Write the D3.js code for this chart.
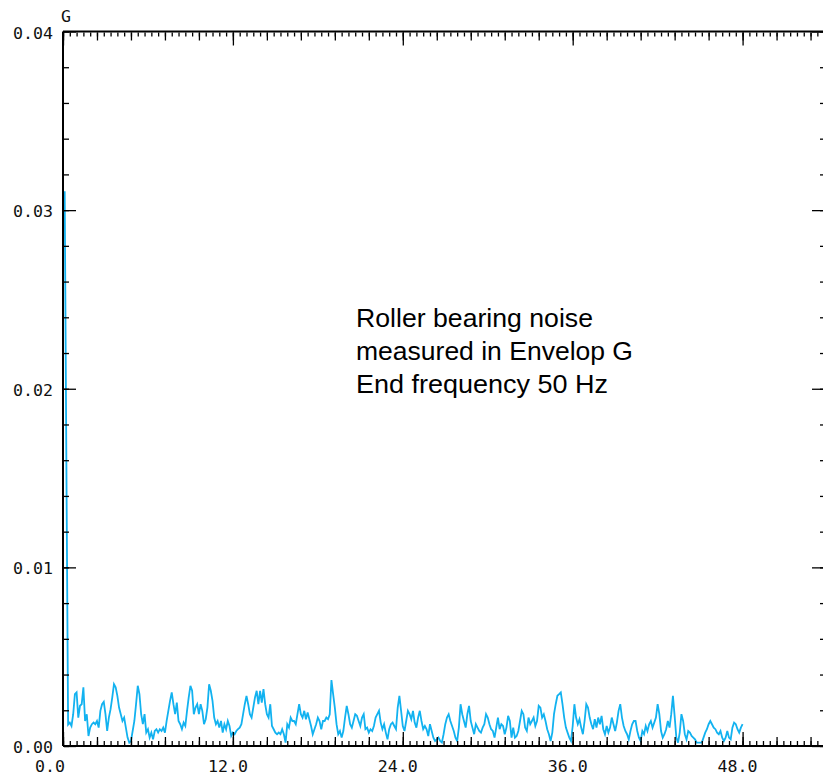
<!DOCTYPE html>
<html>
<head>
<meta charset="utf-8">
<script src="https://cdn.jsdelivr.net/npm/d3@7"></script>
<style>
  html, body { margin: 0; padding: 0; background: #fff; }
  svg { display: block; }
</style>
</head>
<body>
<svg id="chart" width="823" height="778"></svg>
<script>
// Envelope spectrum, 0.12 Hz resolution from 0 to 48 Hz (amplitude in G)
const freqStep = 0.12;
const amplitude = [
  0.0310,
  0.0310, 0.0157, 0.00120, 0.00131, 0.00112, 0.00178, 0.00290, 0.00300, 0.00159, 0.00225,
  0.00234, 0.00328, 0.00140, 0.00178, 0.00056, 0.00103, 0.00122, 0.00131, 0.00122, 0.00140,
  0.00103, 0.00197, 0.00234, 0.00247, 0.00178, 0.00084, 0.00159, 0.00206, 0.00272, 0.00346,
  0.00328, 0.00281, 0.00215, 0.00178, 0.00140, 0.00159, 0.00103, 0.00047, 0.00019, 0.00028,
  0.00084, 0.00140, 0.00234, 0.00337, 0.00290, 0.00178, 0.00122, 0.00178, 0.00075, 0.00094,
  0.00047, 0.00075, 0.00037, 0.00084, 0.00094, 0.00075, 0.00094, 0.00084, 0.00103, 0.00075,
  0.00140, 0.00197, 0.00253, 0.00300, 0.00234, 0.00178, 0.00243, 0.00140, 0.00122, 0.00094,
  0.00131, 0.00112, 0.00197, 0.00272, 0.00337, 0.00309, 0.00178, 0.00215, 0.00234, 0.00178,
  0.00234, 0.00197, 0.00122, 0.00150, 0.00215, 0.00346, 0.00309, 0.00253, 0.00159, 0.00122,
  0.00140, 0.00103, 0.00140, 0.00075, 0.00122, 0.00094, 0.00140, 0.00112, 0.00056, 0.00075,
  0.00066, 0.00084, 0.00094, 0.00103, 0.00122, 0.00178, 0.00234, 0.00281, 0.00234, 0.00178,
  0.00159, 0.00215, 0.00272, 0.00309, 0.00234, 0.00309, 0.00243, 0.00318, 0.00234, 0.00178,
  0.00159, 0.00234, 0.00112, 0.00094, 0.00075, 0.00066, 0.00075, 0.00066, 0.00094, 0.00066,
  0.00019, 0.00122, 0.00103, 0.00159, 0.00140, 0.00140, 0.00122, 0.00178, 0.00234, 0.00178,
  0.00159, 0.00197, 0.00150, 0.00187, 0.00150, 0.00112, 0.00066, 0.00094, 0.00122, 0.00159,
  0.00140, 0.00094, 0.00140, 0.00140, 0.00159, 0.00150, 0.00178, 0.00369, 0.00290, 0.00215,
  0.00122, 0.00066, 0.00084, 0.00047, 0.00084, 0.00159, 0.00225, 0.00178, 0.00122, 0.00103,
  0.00140, 0.00178, 0.00169, 0.00140, 0.00112, 0.00159, 0.00178, 0.00094, 0.00103, 0.00075,
  0.00094, 0.00084, 0.00112, 0.00159, 0.00178, 0.00197, 0.00131, 0.00094, 0.00122, 0.00075,
  0.00037, 0.00094, 0.00122, 0.00131, 0.00112, 0.00094, 0.00215, 0.00281, 0.00197, 0.00112,
  0.00084, 0.00140, 0.00197, 0.00178, 0.00150, 0.00197, 0.00131, 0.00103, 0.00159, 0.00197,
  0.00140, 0.00094, 0.00112, 0.00094, 0.00056, 0.00122, 0.00084, 0.00047, 0.00028, 0.00037,
  0.00047, 0.00028, 0.00019, 0.00066, 0.00122, 0.00159, 0.00178, 0.00140, 0.00112, 0.00084,
  0.00047, 0.00028, 0.00103, 0.00234, 0.00178, 0.00140, 0.00103, 0.00178, 0.00225, 0.00140,
  0.00103, 0.00066, 0.00122, 0.00103, 0.00084, 0.00075, 0.00103, 0.00122, 0.00178, 0.00159,
  0.00122, 0.00094, 0.00084, 0.00047, 0.00103, 0.00159, 0.00094, 0.00122, 0.00112, 0.00066,
  0.00103, 0.00169, 0.00140, 0.00047, 0.00103, 0.00047, 0.00056, 0.00084, 0.00140, 0.00197,
  0.00178, 0.00103, 0.00084, 0.00159, 0.00122, 0.00140, 0.00159, 0.00112, 0.00140, 0.00225,
  0.00215, 0.00159, 0.00178, 0.00140, 0.00094, 0.00066, 0.00028, 0.00075, 0.00178, 0.00234,
  0.00281, 0.00290, 0.00300, 0.00234, 0.00159, 0.00103, 0.00075, 0.00047, 0.00028, 0.00112,
  0.00234, 0.00159, 0.00122, 0.00150, 0.00103, 0.00066, 0.00140, 0.00234, 0.00215, 0.00159,
  0.00122, 0.00094, 0.00150, 0.00103, 0.00159, 0.00122, 0.00169, 0.00094, 0.00066, 0.00112,
  0.00075, 0.00103, 0.00159, 0.00122, 0.00084, 0.00131, 0.00197, 0.00234, 0.00159, 0.00112,
  0.00084, 0.00066, 0.00037, 0.00084, 0.00122, 0.00140, 0.00140, 0.00084, 0.00047, 0.00028,
  0.00084, 0.00066, 0.00112, 0.00084, 0.00122, 0.00140, 0.00103, 0.00131, 0.00159, 0.00234,
  0.00178, 0.00084, 0.00047, 0.00066, 0.00094, 0.00140, 0.00103, 0.00178, 0.00281, 0.00169,
  0.00047, 0.00019, 0.00075, 0.00178, 0.00140, 0.00066, 0.00037, 0.00084, 0.00075, 0.00056,
  0.00047, 0.00037, 0.00019, 0.00019, 0.00019, 0.00019, 0.00047, 0.00075, 0.00094, 0.00122,
  0.00140, 0.00122, 0.00103, 0.00094, 0.00075, 0.00066, 0.00084, 0.00047, 0.00028, 0.00047,
  0.00084, 0.00047, 0.00037, 0.00103, 0.00131, 0.00122, 0.00094, 0.00075, 0.00103, 0.00122
];

const xTickLabels = ["0.0", "12.0", "24.0", "36.0", "48.0"];
const yTickLabels = ["0.00", "0.01", "0.02", "0.03", "0.04"];
const unitLabel = "G";
const noteLines = ["Roller bearing noise", "measured in Envelop G", "End frequency 50 Hz"];

const xMax = 53.75;   // right edge of the frequency window (Hz)
const yMax = 0.04;

const spectrum = amplitude.map((a, i) => ({ f: i * freqStep, a }));

const svg = d3.select("#chart");
const W = 823, H = 778;
const plot = { left: 63, right: 824, top: 31.5, bottom: 746 };

svg.append("rect").attr("width", W).attr("height", H).attr("fill", "#fff");

const x = d3.scaleLinear().domain([0, xMax]).range([plot.left, plot.right]);
const y = d3.scaleLinear().domain([0, yMax]).range([plot.bottom, plot.top]);

// spectrum trace
svg.append("path")
  .datum(spectrum)
  .attr("fill", "none")
  .attr("stroke", "#12b2f0")
  .attr("stroke-width", 1.8)
  .attr("stroke-linejoin", "miter")
  .attr("d", d3.line().x(d => x(d.f)).y(d => y(d.a)));

// tick sets
const xMinor = d3.range(0, Math.floor(xMax / 0.48) + 1).map(i => +(i * 0.48).toFixed(2));
const xMid = d3.range(0, Math.floor(xMax / 2.4) + 1).map(i => +(i * 2.4).toFixed(2));
const xMajor = d3.range(0, Math.floor(xMax / 12) + 1).map(i => i * 12);
const yMinor = d3.range(0, 21).map(i => +(i * 0.002).toFixed(3));
const yMajor = d3.range(0, 5).map(i => +(i * 0.01).toFixed(2));

function axisGroup(axis, tx, ty) {
  const g = svg.append("g").attr("transform", `translate(${tx},${ty})`).call(axis);
  g.select(".domain").remove();
  g.selectAll(".tick line").attr("stroke", "#000").attr("stroke-width", 1.3);
  g.selectAll(".tick text").remove();
  return g;
}

// bottom axis (ticks point inward)
axisGroup(d3.axisBottom(x).tickValues(xMinor).tickSize(-4), 0, plot.bottom - 1);
axisGroup(d3.axisBottom(x).tickValues(xMid).tickSize(-8), 0, plot.bottom - 1);
axisGroup(d3.axisBottom(x).tickValues(xMajor).tickSize(-13), 0, plot.bottom - 1);
// top axis
axisGroup(d3.axisTop(x).tickValues(xMinor).tickSize(-4), 0, plot.top + 1);
axisGroup(d3.axisTop(x).tickValues(xMid).tickSize(-8), 0, plot.top + 1);
axisGroup(d3.axisTop(x).tickValues(xMajor).tickSize(-13), 0, plot.top + 1);
// left axis
axisGroup(d3.axisLeft(y).tickValues(yMinor).tickSize(-5), plot.left + 1, 0);
axisGroup(d3.axisLeft(y).tickValues(yMajor).tickSize(-12), plot.left + 1, 0);
// right axis
axisGroup(d3.axisRight(y).tickValues(yMinor).tickSize(-3), plot.right - 1, 0);
axisGroup(d3.axisRight(y).tickValues(yMajor).tickSize(-11), plot.right - 1, 0);

// frame
svg.append("g")
  .attr("stroke", "#000").attr("stroke-width", 2).attr("fill", "none")
  .selectAll("line")
  .data([
    [plot.left, plot.top, plot.right, plot.top],
    [plot.left, plot.bottom, plot.right, plot.bottom],
    [plot.left, plot.top, plot.left, plot.bottom],
    [plot.right, plot.top, plot.right, plot.bottom]
  ])
  .join("line")
  .attr("x1", d => d[0]).attr("y1", d => d[1])
  .attr("x2", d => d[2]).attr("y2", d => d[3]);

const monoFont = '"DejaVu Sans Mono", monospace';
const monoSize = 16.5;

// y tick labels
svg.append("g")
  .selectAll("text")
  .data(yMajor)
  .join("text")
  .attr("x", 53)
  .attr("y", d => y(d) + 1.5)
  .attr("text-anchor", "end")
  .attr("dominant-baseline", "central")
  .attr("font-family", monoFont)
  .attr("font-size", monoSize)
  .attr("fill", "#111")
  .attr("textLength", (d, i) => yTickLabels[i].length * 10)
  .attr("lengthAdjust", "spacingAndGlyphs")
  .text((d, i) => yTickLabels[i]);

// x tick labels
svg.append("g")
  .selectAll("text")
  .data(xMajor.slice(0, xTickLabels.length))
  .join("text")
  .attr("x", (d, i) => i === 0 ? x(d) + 2 : x(d) - 5)
  .attr("y", 766.5)
  .attr("text-anchor", (d, i) => i === 0 ? "end" : "middle")
  .attr("dominant-baseline", "central")
  .attr("font-family", monoFont)
  .attr("font-size", monoSize)
  .attr("fill", "#111")
  .attr("textLength", (d, i) => xTickLabels[i].length * 10)
  .attr("lengthAdjust", "spacingAndGlyphs")
  .text((d, i) => xTickLabels[i]);

// unit label
svg.append("text")
  .attr("x", 61).attr("y", 16)
  .attr("dominant-baseline", "central")
  .attr("font-family", monoFont)
  .attr("font-size", monoSize)
  .attr("fill", "#111")
  .attr("textLength", 10)
  .attr("lengthAdjust", "spacingAndGlyphs")
  .text(unitLabel);

// annotation
const noteWidths = [237, 277, 252];
svg.append("g")
  .selectAll("text")
  .data(noteLines)
  .join("text")
  .attr("x", 356)
  .attr("y", (d, i) => 327 + i * 33)
  .attr("font-family", '"Liberation Sans", Arial, sans-serif')
  .attr("font-size", 26)
  .attr("fill", "#000")
  .attr("textLength", (d, i) => noteWidths[i])
  .attr("lengthAdjust", "spacingAndGlyphs")
  .text(d => d);
</script>
</body>
</html>
